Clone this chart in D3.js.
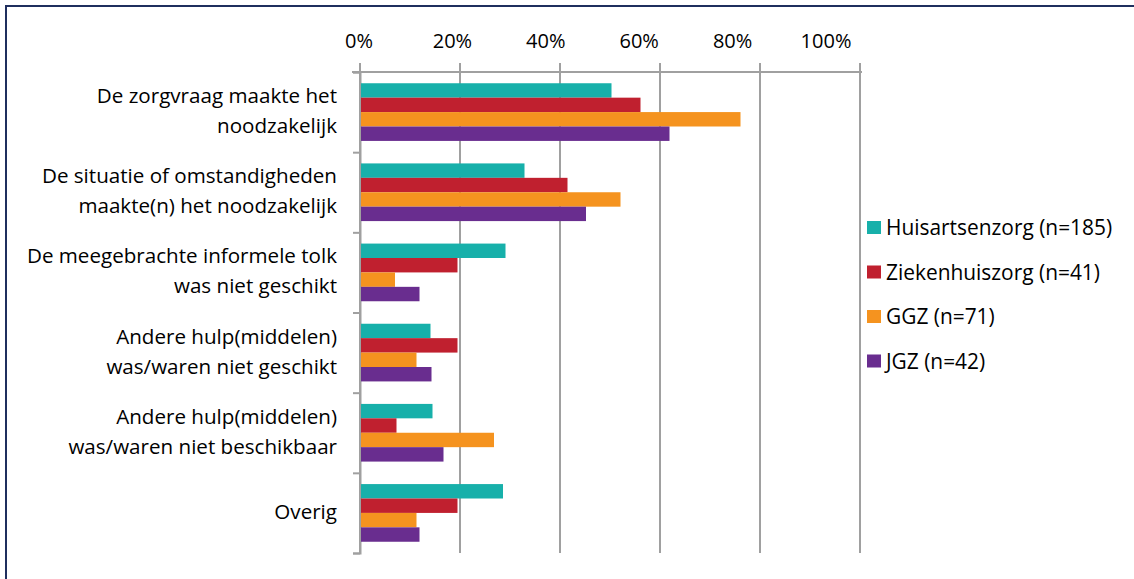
<!DOCTYPE html>
<html>
<head>
<meta charset="utf-8">
<script src="https://cdn.jsdelivr.net/npm/d3@7"></script>
<style>
  body { margin: 0; background: #fff; }
  svg { display: block; font-family: "Open Sans", "Noto Sans", sans-serif; }
</style>
</head>
<body>
<svg width="1134" height="579"></svg>
<script>
// categories (top to bottom), label lines
var categories = [
    ["De zorgvraag maakte het", "noodzakelijk"],
    ["De situatie of omstandigheden", "maakte(n) het noodzakelijk"],
    ["De meegebrachte informele tolk", "was niet geschikt"],
    ["Andere hulp(middelen)", "was/waren niet geschikt"],
    ["Andere hulp(middelen)", "was/waren niet beschikbaar"],
    ["Overig"]
];

var seriesNames = ["Huisartsenzorg (n=185)", "Ziekenhuiszorg (n=41)", "GGZ (n=71)", "JGZ (n=42)"];
var seriesColors = ["#17b0aa", "#c0202f", "#f5931f", "#692d8f"];

// percentages per series, same order as categories
var huisarts = [50.3, 32.9, 29.1, 14.1, 14.5, 28.6];
var ziekenhuis = [56.1, 41.5, 19.5, 19.5, 7.3, 19.5];
var ggz = [76.1, 52.1, 7.0, 11.3, 26.8, 11.3];
var jgz = [61.9, 45.2, 11.9, 14.3, 16.7, 11.9];
var values = [huisarts, ziekenhuis, ggz, jgz];

var tickValues = [0, 20, 40, 60, 80, 100];

var svg = d3.select("svg");

// frame
svg.append("rect")
    .attr("x", 6).attr("y", 6)
    .attr("width", 1140).attr("height", 600)
    .attr("fill", "none")
    .attr("stroke", "#1f2f5e")
    .attr("stroke-width", 2);

var x = d3.scaleLinear().domain([0, 100]).range([360, 860]);
// tick labels in the original sit slightly left of their gridlines
var xLabel = d3.scaleLinear().domain([0, 100]).range([358.5, 825.5]);
var y = d3.scaleBand().domain(d3.range(categories.length)).range([72, 553]);
var inner = d3.scaleBand().domain(d3.range(seriesNames.length))
    .range([0, y.bandwidth()]).paddingOuter(0.78).paddingInner(0);

// gridlines
var grid = svg.append("g");
grid.selectAll("line.grid").data(tickValues).enter().append("line")
    .attr("x1", function(d) { return x(d); })
    .attr("x2", function(d) { return x(d); })
    .attr("y1", 63).attr("y2", 553)
    .attr("stroke", "#a0a0a0").attr("stroke-width", 2);

grid.append("line")
    .attr("x1", 352).attr("x2", 862)
    .attr("y1", 72).attr("y2", 72)
    .attr("stroke", "#a0a0a0").attr("stroke-width", 2);

// top axis labels
var xAxis = d3.axisTop(xLabel).tickValues(tickValues).tickSize(0).tickPadding(0)
    .tickFormat(function(d) { return d + "%"; });
var ax = svg.append("g").attr("transform", "translate(0,48)").call(xAxis);
ax.select(".domain").remove();
ax.selectAll("text")
    .attr("font-size", 20)
    .attr("font-family", "Open Sans, sans-serif")
    .attr("fill", "#000");

// left category axis
var yAxis = d3.axisLeft(d3.scaleLinear().domain([0, 6]).range([72, 553]))
    .ticks(6).tickSize(7).tickFormat("");
var yg = svg.append("g").attr("transform", "translate(360,0)").call(yAxis);
yg.selectAll("path, line").attr("stroke", "#a0a0a0").attr("stroke-width", 2);

// bars
values.forEach(function(series, s) {
    svg.append("g").selectAll("rect").data(series).enter().append("rect")
        .attr("x", x(0) + 1)
        .attr("y", function(d, i) { return y(i) + inner(s); })
        .attr("width", function(d) { return x(d) - x(0) - 1; })
        .attr("height", inner.bandwidth())
        .attr("fill", seriesColors[s]);
});

// category labels
var lbl = svg.append("g").selectAll("text").data(categories).enter().append("text")
    .attr("text-anchor", "end")
    .attr("font-size", 20.6)
    .attr("fill", "#000");
lbl.each(function(lines, i) {
    var cy = y(i) + y.bandwidth() / 2;
    var t = d3.select(this);
    lines.forEach(function(line, k) {
        var off = (k - (lines.length - 1) / 2) * 30;
        t.append("tspan")
            .attr("x", 337)
            .attr("y", cy + off + 6)
            .text(line);
    });
});

// legend
var leg = svg.append("g").selectAll("g").data(seriesNames).enter().append("g")
    .attr("transform", function(d, i) { return "translate(867," + (221 + i * 44.5) + ")"; });
leg.append("rect").attr("width", 14).attr("height", 13)
    .attr("fill", function(d, i) { return seriesColors[i]; });
leg.append("text").attr("x", 19).attr("y", 14)
    .attr("font-size", 20.9).attr("fill", "#000")
    .text(function(d) { return d; });
</script>
</body>
</html>
